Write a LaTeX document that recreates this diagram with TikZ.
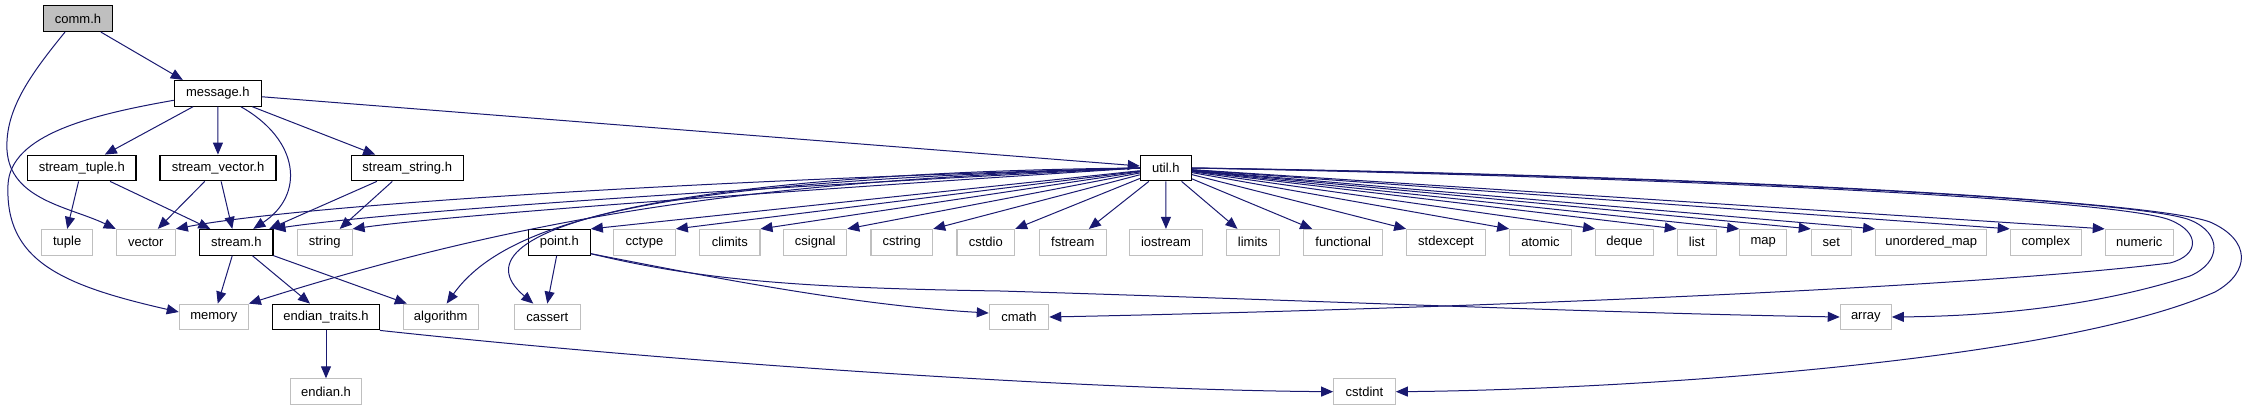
\documentclass[tikz,border=0pt]{standalone}
\usepackage{fontspec}
\setmainfont{Liberation Sans}
\usetikzlibrary{arrows.meta}
\definecolor{edgec}{RGB}{25,25,112}
\definecolor{grayb}{RGB}{191,191,191}
\begin{document}
\begin{tikzpicture}[x=1pt,y=-1pt,
  box/.style={draw, line width=1.1pt, minimum height=25.7pt, inner xsep=4pt, inner ysep=0pt,
    font=\fontsize{13}{15}\selectfont, fill=white},
  proj/.style={box, draw=black},
  ext/.style={box, draw=grayb},
  root/.style={box, draw=black, fill=grayb},
  dep/.style={draw=edgec, line width=1pt, -{Triangle[length=12pt,width=10pt]}}
]
\useasboundingbox (0,0) rectangle (2247,411);
% row 0-1
\node[root, minimum width=69.4pt] (comm) at (78,18.7) {comm.h};
\node[proj, minimum width=87pt] (msg) at (217.8,93.3) {message.h};
% row 1
\node[proj, minimum width=108.3pt] (stuple) at (81.8,168) {stream\_tuple.h};
\node[proj, minimum width=116pt] (svector) at (218,168) {stream\_vector.h};
\node[proj, minimum width=112.3pt] (sstring) at (407.2,168) {stream\_string.h};
\node[proj, minimum width=51pt] (util) at (1165.8,168) {util.h};
% row 2
\node[ext, minimum width=51pt] (tuple) at (67.2,242.3) {tuple};
\node[ext, minimum width=59pt] (vector) at (145.8,242.3) {vector};
\node[proj, minimum width=73.3pt] (stream) at (236.3,242.3) {stream.h};
\node[ext, minimum width=54.7pt] (string) at (324.7,242.3) {string};
\node[proj, minimum width=62pt] (point) at (559.3,242.3) {point.h};
\node[ext, minimum width=61.6pt] (cctype) at (644.5,242.3) {cctype};
\node[ext, minimum width=60.3pt] (climits) at (729.8,242.3) {climits};
\node[ext, minimum width=63pt] (csignal) at (815.2,242.3) {csignal};
\node[ext, minimum width=61.7pt] (cstring) at (901.8,242.3) {cstring};
\node[ext, minimum width=57.6pt] (cstdio) at (985.8,242.3) {cstdio};
\node[ext, minimum width=67pt] (fstream) at (1072.8,242.3) {fstream};
\node[ext, minimum width=72.6pt] (iostream) at (1166,242.3) {iostream};
\node[ext, minimum width=53.3pt] (limits) at (1252.7,242.3) {limits};
\node[ext, minimum width=79pt] (functional) at (1343.2,242.3) {functional};
\node[ext, minimum width=78.6pt] (stdexcept) at (1446,242.3) {stdexcept};
\node[ext, minimum width=61.6pt] (atomic) at (1540.5,242.3) {atomic};
\node[ext, minimum width=57.6pt] (deque) at (1624.5,242.3) {deque};
\node[ext, minimum width=39pt] (list) at (1696.8,242.3) {list};
\node[ext, minimum width=47pt] (map) at (1763.2,242.3) {map};
\node[ext, minimum width=40pt] (set) at (1831.3,242.3) {set};
\node[ext, minimum width=111pt] (umap) at (1931.2,242.3) {unordered\_map};
\node[ext, minimum width=71pt] (complex) at (2045.8,242.3) {complex};
\node[ext, minimum width=68pt] (numeric) at (2139.3,242.3) {numeric};
% row 3
\node[ext, minimum width=69pt] (memory) at (213.8,317) {memory};
\node[proj, minimum width=106.6pt] (etraits) at (326,317) {endian\_traits.h};
\node[ext, minimum width=74.7pt] (algorithm) at (440.7,317) {algorithm};
\node[ext, minimum width=66pt] (cassert) at (547.3,317) {cassert};
\node[ext, minimum width=59.4pt] (cmath) at (1019,317) {cmath};
\node[ext, minimum width=51pt] (array) at (1865.8,317) {array};
% row 4
\node[ext, minimum width=70.6pt] (endian) at (326,391.7) {endian.h};
\node[ext, minimum width=61.6pt] (cstdint) at (1364.5,391.7) {cstdint};

% comm.h
\draw[dep] (comm) -- ([xshift=-35pt]msg.north);
\draw[dep] ([xshift=-13pt]comm.south) .. controls (30,75) and (5,110) .. (7,150)
  .. controls (10,200) and (70,207) .. (vector.north west);
% message.h
\draw[dep] (msg) -- ([yshift=2pt]util.west);
\draw[dep] ([yshift=-7pt]msg.west) .. controls (90,115) and (10,135) .. (8,185)
  .. controls (5,260) and (60,285) .. ([yshift=5pt]memory.west);
\draw[dep] (msg) -- ([xshift=23pt]stuple.north);
\draw[dep] (msg) -- (svector);
\draw[dep] ([xshift=23pt]msg.south) .. controls (300,140) and (305,195) .. ([xshift=17pt]stream.north);
\draw[dep] (msg) -- ([xshift=-32pt]sstring.north);
% stream_*.h
\draw[dep] (stuple) -- (tuple.north);
\draw[dep] (stuple) -- ([xshift=-26pt]stream.north);
\draw[dep] (svector) -- ([xshift=12pt]vector.north);
\draw[dep] (svector) -- ([xshift=-4pt]stream.north);
\draw[dep] (sstring) -- ([xshift=33pt]stream.north);
\draw[dep] (sstring) -- ([xshift=15pt]string.north);
% stream.h
\draw[dep] (stream) -- ([xshift=4pt]memory.north);
\draw[dep] (stream) -- ([xshift=-16pt]etraits.north);
\draw[dep] (stream) -- ([xshift=4pt]algorithm.north west);
% endian_traits.h
\draw[dep] (etraits) -- (endian);
\draw[dep] (etraits.south east) .. controls (700,365) and (1100,390) .. (cstdint.west);
% point.h
\draw[dep] (point) -- (cassert.north);
\draw[dep] ([yshift=2pt]point.south east) .. controls (700,275) and (850,305) .. ([yshift=4pt]cmath.west);
\draw[dep] ([yshift=2pt]point.south east) .. controls (700,280) and (800,288) .. (1000,291)
  .. controls (1300,300) and (1600,313) .. (array.west);
% util.h to the left
\draw[dep] (util.west) .. controls (700,180) and (300,205) .. (vector.north east);
\draw[dep] (util.west) .. controls (800,185) and (400,210) .. (stream.north east);
\draw[dep] (util.west) .. controls (800,190) and (450,215) .. (string.north east);
\draw[dep] (util.west) .. controls (800,180) and (560,205) .. (memory.north east);
\draw[dep] (util.west) .. controls (750,180) and (520,200) .. ([xshift=6pt]algorithm.north);
\draw[dep] (util.west) .. controls (700,172) and (440,225) .. ([xshift=-14pt]cassert.north);
\draw[dep] (util) -- (point.north east);
\draw[dep] (util) -- (cctype.north east);
\draw[dep] (util) -- (climits.north east);
\draw[dep] (util) -- (csignal.north east);
\draw[dep] (util) -- (cstring.north east);
\draw[dep] (util) -- (cstdio.north east);
\draw[dep] (util) -- ([xshift=-18pt]fstream.north east);
\draw[dep] (util) -- (iostream);
\draw[dep] (util) -- ([xshift=12pt]limits.north west);
\draw[dep] (util) -- ([xshift=9pt]functional.north west);
% util.h to the right
\draw[dep] (util) -- (stdexcept.north west);
\draw[dep] (util) -- (atomic.north west);
\draw[dep] (util) -- (deque.north west);
\draw[dep] (util) -- (list.north west);
\draw[dep] (util) -- (map.north west);
\draw[dep] (util) -- (set.north west);
\draw[dep] (util) -- (umap.north west);
\draw[dep] (util) -- (complex.north west);
\draw[dep] (util) -- (numeric.north west);
% loops
\draw[dep] (util.east) .. controls (1700,178) and (2120,200) .. (2170,220)
  .. controls (2200,232) and (2200,255) .. (2170,263)
  .. controls (1950,290) and (1400,310) .. (cmath.east);
\draw[dep] (util.east) .. controls (1700,176) and (2140,200) .. (2190,220)
  .. controls (2222,233) and (2222,262) .. (2190,276)
  .. controls (2100,305) and (2000,316) .. (array.east);
\draw[dep] (util.east) .. controls (1700,175) and (2150,200) .. (2210,222)
  .. controls (2251,240) and (2251,272) .. (2215,292)
  .. controls (2050,365) and (1600,390) .. (cstdint.east);
\end{tikzpicture}
\end{document}
